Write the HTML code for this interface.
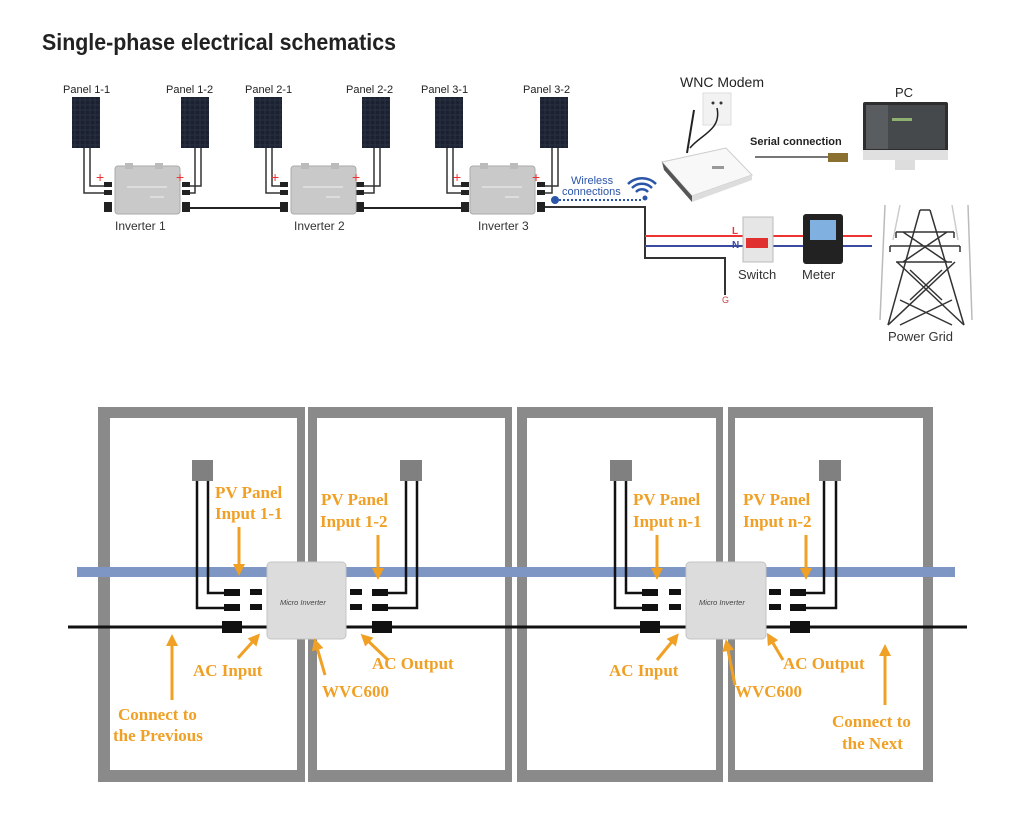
<!DOCTYPE html>
<html><head><meta charset="utf-8"><style>
html,body{margin:0;padding:0;background:#fff;}
svg{display:block;}
.s{font-family:"Liberation Sans",sans-serif;}
.o{font-family:"Liberation Serif",serif;font-weight:bold;fill:#f0a025;font-size:17px;}
</style></head><body>
<svg width="1024" height="827" viewBox="0 0 1024 827" xmlns="http://www.w3.org/2000/svg">
<defs>
<pattern id="cells" width="5" height="5" patternUnits="userSpaceOnUse">
<rect width="5" height="5" fill="#2a3140"/><rect x="0.5" y="0.5" width="4" height="4" fill="#1b2130"/>
</pattern>
<marker id="ah" markerWidth="4" markerHeight="4" refX="2" refY="2" orient="auto" markerUnits="strokeWidth">
<path d="M0,0 L4,2 L0,4 z" fill="#f0a025"/></marker>
<g id="inv">
<rect x="0" y="0" width="65" height="48" rx="3" fill="#c9c9c9" stroke="#aaa"/>
<rect x="10" y="-3" width="8" height="6" fill="#bbb"/><rect x="40" y="-3" width="8" height="6" fill="#bbb"/>
<rect x="12" y="20" width="40" height="2" fill="#ddd"/><rect x="35" y="30" width="14" height="2" fill="#ddd"/>
</g>
</defs>

<text x="42" y="50" class="s" font-size="23" font-weight="bold" fill="#222" textLength="354" lengthAdjust="spacingAndGlyphs">Single-phase electrical schematics</text>

<g class="s" font-size="11" fill="#222">
<text x="63" y="93">Panel 1-1</text><text x="166" y="93">Panel 1-2</text>
<text x="245" y="93">Panel 2-1</text><text x="346" y="93">Panel 2-2</text>
<text x="421" y="93">Panel 3-1</text><text x="523" y="93">Panel 3-2</text>
</g>
<g fill="url(#cells)">
<rect x="72" y="97" width="28" height="51"/><rect x="181" y="97" width="28" height="51"/>
<rect x="254" y="97" width="28" height="51"/><rect x="362" y="97" width="28" height="51"/>
<rect x="435" y="97" width="28" height="51"/><rect x="540" y="97" width="28" height="51"/>
</g>
<g fill="none" stroke="#333" stroke-width="1.5">
<path d="M84,148 V193 H105 M90,148 V186 H105"/>
<path d="M195,148 V193 H185 M201,148 V186 H185" />
<path d="M266,148 V193 H286 M272,148 V186 H286"/>
<path d="M374,148 V193 H358 M380,148 V186 H358"/>
<path d="M447,148 V193 H466 M453,148 V186 H466"/>
<path d="M552,148 V193 H540 M558,148 V186 H540"/>
</g>
<g stroke="#222" stroke-width="2">
<line x1="185" y1="208" x2="284" y2="208"/><line x1="360" y1="208" x2="463" y2="208"/>
</g>
<g fill="#222">
<rect x="104" y="182" width="8" height="5"/><rect x="104" y="190" width="8" height="5"/><rect x="104" y="202" width="8" height="10"/>
<rect x="182" y="182" width="8" height="5"/><rect x="182" y="190" width="8" height="5"/><rect x="182" y="202" width="8" height="10"/>
<rect x="280" y="182" width="8" height="5"/><rect x="280" y="190" width="8" height="5"/><rect x="280" y="202" width="8" height="10"/>
<rect x="356" y="182" width="8" height="5"/><rect x="356" y="190" width="8" height="5"/><rect x="356" y="202" width="8" height="10"/>
<rect x="461" y="182" width="8" height="5"/><rect x="461" y="190" width="8" height="5"/><rect x="461" y="202" width="8" height="10"/>
<rect x="537" y="182" width="8" height="5"/><rect x="537" y="190" width="8" height="5"/><rect x="537" y="202" width="8" height="10"/>
</g>
<use href="#inv" x="115" y="166"/><use href="#inv" x="291" y="166"/><use href="#inv" x="470" y="166"/>
<g fill="#e33" class="s" font-size="14"><text x="96" y="182">+</text><text x="176" y="182">+</text><text x="271" y="182">+</text><text x="352" y="182">+</text><text x="453" y="182">+</text><text x="532" y="182">+</text></g>
<g class="s" font-size="12" fill="#333"><text x="115" y="230">Inverter 1</text><text x="294" y="230">Inverter 2</text><text x="478" y="230">Inverter 3</text></g>
<text x="571" y="184" class="s" font-size="11" fill="#2a55a8">Wireless</text>
<text x="562" y="195" class="s" font-size="11" fill="#2a55a8">connections</text>
<circle cx="555" cy="200" r="4" fill="#2a55a8"/>
<line x1="559" y1="200" x2="642" y2="200" stroke="#2a55a8" stroke-width="2" stroke-dasharray="2,2"/>
<g fill="none" stroke="#2a55a8" stroke-width="2.5"><path d="M636,192 a8,8 0 0 1 12,0"/><path d="M632,188 a14,14 0 0 1 20,0"/><path d="M628,184 a20,20 0 0 1 28,0"/></g>
<circle cx="645" cy="198" r="2.5" fill="#2a55a8"/>
<path d="M545,207 H645 V258 H725 V295" fill="none" stroke="#333" stroke-width="2"/>
<text x="722" y="303" class="s" font-size="9" fill="#c44">G</text>
<line x1="645" y1="236" x2="872" y2="236" stroke="#e33" stroke-width="2"/>
<line x1="645" y1="246" x2="872" y2="246" stroke="#3a4aa0" stroke-width="2"/>
<text x="732" y="234" class="s" font-size="10" font-weight="bold" fill="#e33">L</text>
<text x="732" y="248" class="s" font-size="10" font-weight="bold" fill="#3a4aa0">N</text>
<rect x="743" y="217" width="30" height="45" fill="#e6e6e6" stroke="#bbb"/><rect x="746" y="238" width="22" height="10" fill="#e03030"/>
<rect x="803" y="214" width="40" height="50" rx="3" fill="#222"/><rect x="810" y="220" width="26" height="20" fill="#7fb0e0"/>
<g class="s" font-size="13" fill="#333"><text x="738" y="279">Switch</text><text x="802" y="279">Meter</text><text x="888" y="341">Power Grid</text></g>
<!-- tower -->
<g stroke="#333" stroke-width="1.5" fill="none">
<path d="M920,210 L888,325 M930,210 L964,325 M920,210 H930"/>
<path d="M896,232 H954 M890,246 H960 M896,262 H952 M888,325 L955,262 M964,325 L897,262 M903,232 L947,262 M947,232 L903,262 M910,270 L942,300 M942,270 L910,300 M900,300 L952,325 M952,300 L900,325"/>
<path d="M896,232 v6 M954,232 v6 M890,246 v6 M960,246 v6" />
<line x1="885" y1="205" x2="880" y2="320" stroke="#bbb"/><line x1="968" y1="205" x2="972" y2="320" stroke="#bbb"/>
<line x1="900" y1="205" x2="893" y2="240" stroke="#ccc"/><line x1="952" y1="205" x2="958" y2="240" stroke="#ccc"/>
</g>
<!-- modem -->
<text x="680" y="87" class="s" font-size="14" fill="#222">WNC Modem</text>
<rect x="703" y="93" width="28" height="32" fill="#f2f2f2" stroke="#ddd"/>
<circle cx="713" cy="103" r="1.5" fill="#333"/><circle cx="721" cy="103" r="1.5" fill="#333"/>
<path d="M717,108 C722,130 700,135 690,148" stroke="#222" stroke-width="1.5" fill="none"/>
<path d="M687,153 L694,110" stroke="#222" stroke-width="2"/>
<path d="M662,162 L726,148 L752,175 L692,196 Z" fill="#f8f8f8" stroke="#ccc"/>
<path d="M662,162 L692,196 L692,202 L664,170 Z" fill="#555"/>
<path d="M692,196 L752,175 L752,180 L692,202 Z" fill="#ddd"/>
<rect x="712" y="166" width="12" height="3" fill="#999"/>
<text x="750" y="145" class="s" font-size="11" font-weight="bold" fill="#222">Serial connection</text>
<line x1="755" y1="157" x2="830" y2="157" stroke="#777" stroke-width="2"/><rect x="828" y="153" width="20" height="9" fill="#8a7030"/>
<text x="895" y="97" class="s" font-size="13" fill="#222">PC</text>
<rect x="863" y="102" width="85" height="55" rx="2" fill="#2e2e2e"/><rect x="866" y="105" width="79" height="44" fill="#46494c"/>
<rect x="866" y="105" width="22" height="44" fill="#5a5d60"/><rect x="892" y="118" width="20" height="3" fill="#8fb070"/>
<rect x="863" y="150" width="85" height="10" fill="#e0e0e0"/><rect x="895" y="160" width="20" height="10" fill="#ddd"/>

<g fill="#8a8a8a">
<rect x="98" y="407" width="207" height="375"/><rect x="308" y="407" width="204" height="375"/>
<rect x="517" y="407" width="206" height="375"/><rect x="728" y="407" width="205" height="375"/>
</g>
<g fill="#fff">
<rect x="110" y="418" width="187" height="352"/><rect x="317" y="418" width="188" height="352"/>
<rect x="527" y="418" width="189" height="352"/><rect x="735" y="418" width="188" height="352"/>
</g>
<rect x="77" y="567" width="878" height="10" fill="#7e96c4"/>
<line x1="68" y1="627" x2="967" y2="627" stroke="#111" stroke-width="3"/>
<g fill="#808080"><rect x="192" y="460" width="21" height="21"/><rect x="400" y="460" width="22" height="21"/><rect x="610" y="460" width="22" height="21"/><rect x="819" y="460" width="22" height="21"/></g>
<g fill="none" stroke="#111" stroke-width="2.5">
<path d="M197,481 V608 H240 M208,481 V593 H240"/>
<path d="M406,481 V593 H375 M417,481 V608 H375"/>
<path d="M615,481 V608 H658 M626,481 V593 H658"/>
<path d="M824,481 V593 H793 M836,481 V608 H793"/>
</g>
<g fill="#111">
<rect x="224" y="589" width="16" height="7"/><rect x="224" y="604" width="16" height="7"/><rect x="222" y="621" width="20" height="12"/>
<rect x="250" y="589" width="12" height="6"/><rect x="250" y="604" width="12" height="6"/>
<rect x="350" y="589" width="12" height="6"/><rect x="350" y="604" width="12" height="6"/>
<rect x="372" y="589" width="16" height="7"/><rect x="372" y="604" width="16" height="7"/><rect x="372" y="621" width="20" height="12"/>
<rect x="642" y="589" width="16" height="7"/><rect x="642" y="604" width="16" height="7"/><rect x="640" y="621" width="20" height="12"/>
<rect x="669" y="589" width="12" height="6"/><rect x="669" y="604" width="12" height="6"/>
<rect x="769" y="589" width="12" height="6"/><rect x="769" y="604" width="12" height="6"/>
<rect x="790" y="589" width="16" height="7"/><rect x="790" y="604" width="16" height="7"/><rect x="790" y="621" width="20" height="12"/>
</g>
<g>
<rect x="267" y="562" width="79" height="77" rx="4" fill="#dcdcdc" stroke="#c4c4c4"/>
<text x="280" y="605" class="s" font-size="7.5" font-style="italic" fill="#444">Micro Inverter</text>
<rect x="686" y="562" width="80" height="77" rx="4" fill="#dcdcdc" stroke="#c4c4c4"/>
<text x="699" y="605" class="s" font-size="7.5" font-style="italic" fill="#444">Micro Inverter</text>
</g>
<g stroke="#f0a025" stroke-width="3" fill="none" marker-end="url(#ah)">
<line x1="239" y1="527" x2="239" y2="570"/><line x1="378" y1="535" x2="378" y2="574"/>
<line x1="172" y1="700" x2="172" y2="640"/><line x1="238" y1="658" x2="256" y2="638"/>
<line x1="325" y1="675" x2="316" y2="644"/><line x1="388" y1="660" x2="365" y2="638"/>
<line x1="657" y1="535" x2="657" y2="574"/><line x1="806" y1="535" x2="806" y2="574"/>
<line x1="657" y1="660" x2="675" y2="638"/><line x1="735" y1="685" x2="727" y2="645"/>
<line x1="783" y1="660" x2="770" y2="638"/><line x1="885" y1="705" x2="885" y2="650"/>
</g>
<g class="o">
<text x="215" y="498">PV Panel</text><text x="215" y="519">Input 1-1</text>
<text x="321" y="505">PV Panel</text><text x="320" y="527">Input 1-2</text>
<text x="193" y="676">AC Input</text><text x="372" y="669">AC Output</text>
<text x="322" y="697">WVC600</text>
<text x="118" y="720">Connect to</text><text x="113" y="741">the Previous</text>
<text x="633" y="505">PV Panel</text><text x="633" y="527">Input n-1</text>
<text x="743" y="505">PV Panel</text><text x="743" y="527">Input n-2</text>
<text x="609" y="676">AC Input</text><text x="783" y="669">AC Output</text>
<text x="735" y="697">WVC600</text>
<text x="832" y="727">Connect to</text><text x="842" y="749">the Next</text>
</g>
</svg>
</body></html>
